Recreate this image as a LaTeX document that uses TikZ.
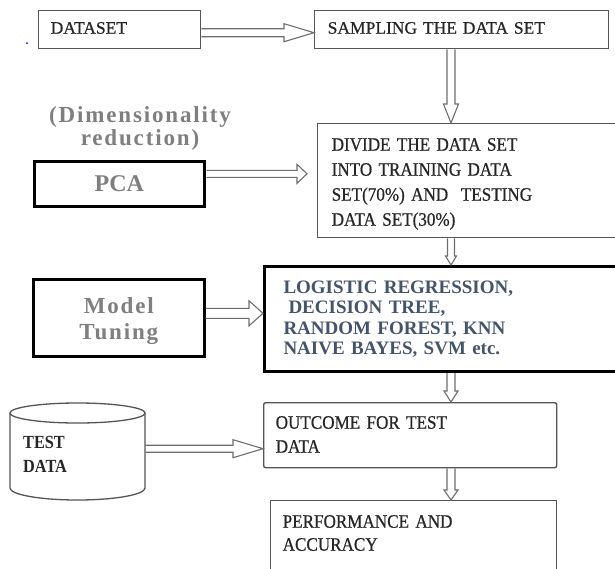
\documentclass[tikz,border=0pt]{standalone}
\usepackage{fontspec}
\setmainfont{Liberation Serif}
\newfontfamily\regfont[FakeBold=0.6]{Liberation Serif}
\newfontfamily\condfont[FakeStretch=0.9,FakeBold=0.6]{Liberation Serif}
\newfontfamily\tdfont[FakeStretch=0.88]{Liberation Serif}
\newfontfamily\spacedfont[LetterSpace=8]{Liberation Serif}
\usetikzlibrary{calc}
\definecolor{txt}{HTML}{262626}
\definecolor{slate}{HTML}{44546A}
\definecolor{lbl}{HTML}{7F7F7F}
\definecolor{edge}{HTML}{555555}
\definecolor{arr}{HTML}{6E6E6E}
\newcommand\hgt[1]{\rule{0pt}{#1pt}}
\newcommand\dpt[1]{\rule[-#1pt]{0pt}{0pt}}
\newcommand\blockarrow[5]{%
  \path #1 coordinate (ba-s) #2 coordinate (ba-t);
  \path ($(ba-t)!#5pt!(ba-s)$) coordinate (ba-h);
  \draw[blockarr] ($(ba-s)!#3pt!90:(ba-t)$) -- ($(ba-h)!#3pt!90:(ba-t)$) -- ($(ba-h)!#4pt!90:(ba-t)$) -- (ba-t) -- ($(ba-h)!#4pt!-90:(ba-t)$) -- ($(ba-h)!#3pt!-90:(ba-t)$) -- ($(ba-s)!#3pt!-90:(ba-t)$);
}
\tikzset{
  flowbox/.style={draw=edge, line width=1.4pt, anchor=north west, inner ysep=0pt, align=left, text=txt},
  heavybox/.style={draw=black, line width=2.6pt, anchor=north west, inner ysep=0pt},
  blockarr/.style={draw=arr, line width=1.1pt, line join=miter},
  cyl/.style={draw=edge, line width=1.3pt},
  graylbl/.style={font=\spacedfont\bfseries\fontsize{23}{26}\selectfont, text=lbl, align=center}
}
\begin{document}
\begin{tikzpicture}[x=1pt,y=-1pt]
\useasboundingbox (0,0) rectangle (615,568);
\fill[white] (0,0) rectangle (615,568);
\coordinate (spine) at (451,0);

% boxes
\node[flowbox, minimum width=162pt, minimum height=38pt, inner xsep=12pt, text width=138pt,
  font=\regfont\fontsize{17.5}{22}\selectfont] (dataset) at (38,10) {\hgt{23}DATASET\dpt{15}};
\node[flowbox, minimum width=294pt, minimum height=38pt, inner xsep=13pt, text width=268pt,
  font=\regfont\fontsize{17.5}{22}\selectfont] (sampling) at (314,10) {\hgt{23}SAMPLING THE DATA SET\dpt{15}};
\node[flowbox, minimum width=305pt, minimum height=114pt, inner xsep=14pt, text width=277pt,
  font=\condfont\fontsize{19}{25}\selectfont] (divide) at (317,123)
  {\hgt{27}DIVIDE THE DATA SET\\INTO TRAINING DATA\\SET(70\%) AND\ \ TESTING\\DATA SET(30\%)\dpt{12}};
\node[graylbl, anchor=north, inner sep=0pt, font=\spacedfont\bfseries\fontsize{23}{23}\selectfont] (dimred) at (140,102)
  {\hgt{20}(Dimensionality\\reduction)};
\node[heavybox, graylbl, font=\bfseries\fontsize{24}{26}\selectfont, minimum width=170pt, minimum height=45pt, inner xsep=0pt, text width=170pt] (pca) at (33,160)
  {\hgt{30}PCA\dpt{15}};
\node[heavybox, graylbl, minimum width=171pt, minimum height=77pt, inner xsep=0pt, text width=171pt] (mt) at (32,278)
  {\hgt{34}Model\\Tuning\dpt{17}};
\node[heavybox, line width=3pt, minimum width=360pt, minimum height=105pt, inner xsep=19pt, text width=322pt,
  align=left, text=slate, font=\bfseries\fontsize{19}{20.3}\selectfont] (model) at (263,265)
  {\hgt{27}LOGISTIC REGRESSION,\\\hspace*{5pt}DECISION TREE,\\RANDOM FOREST, KNN\\NAIVE BAYES, SVM etc.\dpt{17}};
\node[flowbox, rounded corners=2pt, minimum width=293pt, minimum height=65pt, inner xsep=12pt, text width=269pt,
  font=\condfont\fontsize{19}{24}\selectfont] (outcome) at (263,402)
  {\hgt{26}OUTCOME FOR TEST\\DATA\dpt{15}};
\node[flowbox, minimum width=286pt, minimum height=80pt, inner xsep=12pt, text width=262pt,
  font=\condfont\fontsize{19}{23}\selectfont] (perf) at (270,500)
  {\hgt{27}PERFORMANCE AND\\ACCURACY\dpt{30}};

% test data cylinder
\draw[cyl] (10,413) -- (10,488) arc[start angle=180, end angle=360, x radius=67.5pt, y radius=12pt] -- (145,413);
\draw[cyl] (77.5,413) ellipse[x radius=67.5pt, y radius=10pt];
\node[anchor=north west, inner ysep=0pt, inner xsep=13pt, minimum width=135pt, minimum height=97pt, text width=109pt,
  align=left, text=txt, font=\tdfont\bfseries\fontsize{18.5}{24}\selectfont] (testdata) at (10,403)
  {\hgt{45}TEST\\DATA\dpt{28}};

% connectors
\blockarrow{($(dataset.east)+(0,3)$)}{($(sampling.west)+(0,3)$)}{4}{9}{30}
\blockarrow{(sampling.south -| spine)}{(divide.north -| spine)}{4}{7.5}{19}
\blockarrow{($(pca.east)+(1,-10)$)}{($(pca.east -| divide.west)+(-10,-10)$)}{3.5}{9.5}{10}
\blockarrow{(divide.south -| spine)}{(model.north -| spine)}{3.5}{5.5}{9}
\blockarrow{($(mt.east)+(0,-4.5)$)}{($(mt.east -| model.west)+(0,-4.5)$)}{5}{12.5}{14}
\blockarrow{(model.south -| spine)}{(outcome.north -| spine)}{4}{7}{11}
\blockarrow{($(testdata.east)+(0,-3)$)}{($(testdata.east -| outcome.west)+(0,-3)$)}{3.5}{9}{30}
\blockarrow{(outcome.south -| spine)}{(perf.north -| spine)}{4}{7}{10}

\fill[blue] (27,43) circle[radius=1pt];
\end{tikzpicture}
\end{document}
